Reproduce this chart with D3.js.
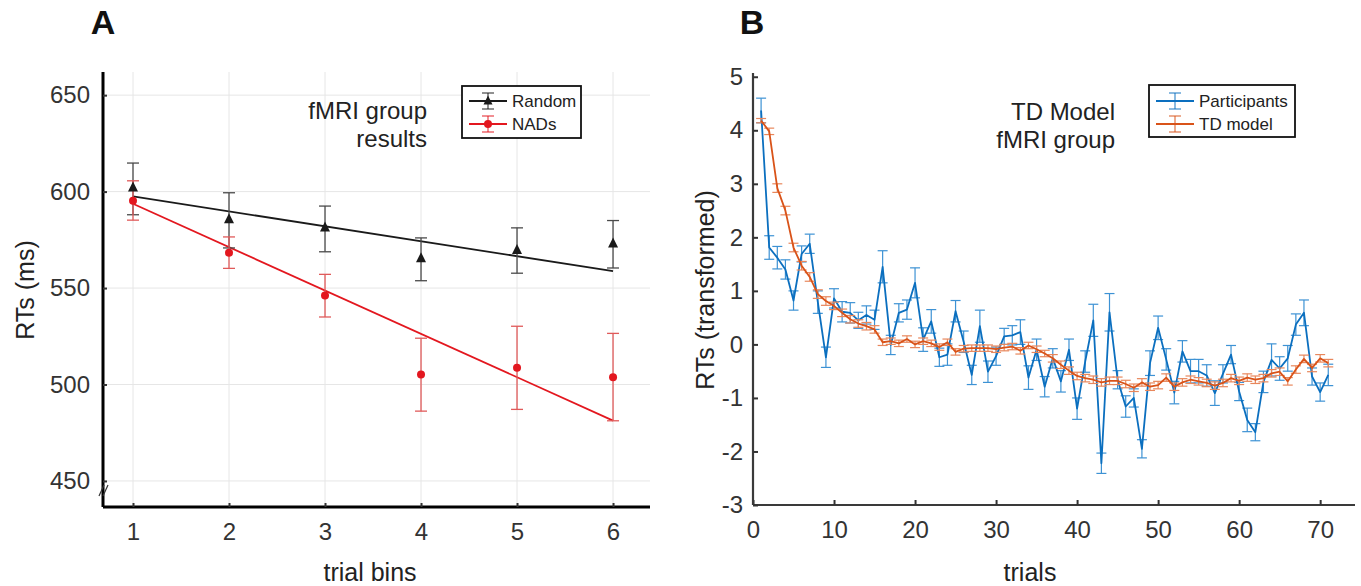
<!DOCTYPE html>
<html>
<head>
<meta charset="utf-8">
<script src="https://cdn.jsdelivr.net/npm/d3@7"></script>
<style>
  body { margin: 0; background: #fff; }
  svg { display: block; font-family: "Liberation Sans", Arial, sans-serif; }
</style>
</head>
<body>
<svg id="chart" width="1361" height="586"></svg>
<script>
// ---- panel A data (RTs in ms per trial bin) ----
var bins = [1, 2, 3, 4, 5, 6];
var randomMean = [602, 585.6, 581.3, 565.4, 569.6, 573];
var randomHi = [614.8, 599.4, 592.5, 576, 581.2, 585];
var randomLo = [588, 570.8, 568.8, 553.8, 557.7, 560.4];
var nadsMean = [595.2, 568.3, 546.2, 505.2, 508.7, 503.8];
var nadsHi = [605.6, 576.5, 557.1, 524, 530.2, 526.5];
var nadsLo = [585.2, 560.2, 535, 486.2, 487.1, 481.2];
var fitBins = [1, 6];
var randomFit = [597.5, 558.8];
var nadsFit = [593.7, 481.3];
var ticksA = [450, 500, 550, 600, 650];

// ---- panel B data (transformed RTs per trial) ----
var participants = [4.37, 1.81, 1.62, 1.40, 0.82, 1.69, 1.88, 0.79, -0.24, 0.86,
  0.61, 0.59, 0.45, 0.55, 0.46, 1.45, -0.01, 0.59, 0.65, 1.15,
  0.09, 0.43, -0.24, -0.19, 0.62, 0.05, -0.57, 0.34, -0.51, -0.22,
  0.15, 0.17, 0.23, -0.62, -0.10, -0.79, -0.26, -0.69, -0.10, -1.20,
  -0.32, 0.45, -2.22, 0.60, -0.66, -1.16, -1.00, -1.95, -0.35, 0.31,
  -0.28, -0.90, -0.13, -0.50, -0.50, -0.58, -0.91, -0.55, -0.19, -0.88,
  -1.41, -1.64, -0.70, -0.29, -0.45, -0.26, 0.37, 0.59, -0.60, -0.89, -0.57];
var participantsErr = [0.23, 0.22, 0.21, 0.18, 0.18, 0.15, 0.18, 0.21, 0.19, 0.18,
  0.19, 0.19, 0.15, 0.17, 0.18, 0.30, 0.18, 0.17, 0.18, 0.28,
  0.22, 0.22, 0.17, 0.20, 0.20, 0.20, 0.18, 0.30, 0.20, 0.17,
  0.15, 0.18, 0.23, 0.22, 0.20, 0.19, 0.18, 0.20, 0.20, 0.20,
  0.20, 0.30, 0.19, 0.35, 0.17, 0.20, 0.17, 0.17, 0.23, 0.22,
  0.20, 0.21, 0.20, 0.22, 0.22, 0.20, 0.23, 0.17, 0.17, 0.17,
  0.22, 0.16, 0.20, 0.30, 0.22, 0.24, 0.20, 0.24, 0.16, 0.17, 0.20];
var tdModel = [4.18, 3.98, 2.92, 2.50, 1.81, 1.47, 1.26, 0.94, 0.81, 0.72,
  0.59, 0.47, 0.39, 0.34, 0.28, 0.04, 0.06, 0.02, 0.10, 0.00,
  0.06, 0.02, -0.05, 0.04, -0.14, -0.08, -0.07, -0.07, -0.07, -0.09,
  -0.06, -0.04, -0.12, -0.02, -0.09, -0.17, -0.26, -0.38, -0.49, -0.59,
  -0.63, -0.66, -0.71, -0.68, -0.68, -0.74, -0.81, -0.71, -0.79, -0.76,
  -0.62, -0.79, -0.71, -0.66, -0.69, -0.72, -0.77, -0.72, -0.63, -0.68,
  -0.62, -0.66, -0.63, -0.54, -0.51, -0.69, -0.47, -0.27, -0.44, -0.26, -0.35];
var tdErr = [0.04, 0.06, 0.08, 0.08, 0.08, 0.08, 0.08, 0.08, 0.08, 0.07,
  0.07, 0.07, 0.07, 0.07, 0.07, 0.06, 0.06, 0.06, 0.06, 0.06,
  0.06, 0.06, 0.06, 0.06, 0.06, 0.06, 0.06, 0.06, 0.06, 0.06,
  0.06, 0.06, 0.06, 0.06, 0.06, 0.06, 0.07, 0.07, 0.07, 0.07,
  0.07, 0.07, 0.07, 0.07, 0.07, 0.07, 0.07, 0.07, 0.07, 0.07,
  0.07, 0.07, 0.07, 0.07, 0.07, 0.07, 0.07, 0.07, 0.07, 0.07,
  0.07, 0.07, 0.07, 0.07, 0.07, 0.07, 0.07, 0.07, 0.07, 0.07, 0.07];
var trials = d3.range(1, participants.length + 1);
var ticksBx = [0, 10, 20, 30, 40, 50, 60, 70];
var ticksBy = [-3, -2, -1, 0, 1, 2, 3, 4, 5];

var svg = d3.select("#chart");
var tickFont = "'Liberation Sans Narrow', 'Arial Narrow', 'Liberation Sans', sans-serif";

function errorBars(g, xs, lo, hi, x, y, color, capW, width) {
    xs.forEach(function (d, i) {
        var cx = x(d);
        g.append("line").attr("x1", cx).attr("x2", cx)
            .attr("y1", y(lo[i])).attr("y2", y(hi[i]))
            .attr("stroke", color).attr("stroke-width", width);
        [lo[i], hi[i]].forEach(function (v) {
            g.append("line").attr("x1", cx - capW / 2).attr("x2", cx + capW / 2)
                .attr("y1", y(v)).attr("y2", y(v))
                .attr("stroke", color).attr("stroke-width", width);
        });
    });
}

function triangle(g, cx, cy, s, color) {
    g.append("path")
        .attr("d", "M" + cx + "," + (cy - s * 0.62) + "L" + (cx + s / 2) + "," + (cy + s * 0.38) +
            "L" + (cx - s / 2) + "," + (cy + s * 0.38) + "Z")
        .attr("fill", color);
}

function legendItem(g, x0, y0, color, label, marker) {
    g.append("line").attr("x1", x0).attr("x2", x0 + 38).attr("y1", y0).attr("y2", y0)
        .attr("stroke", color).attr("stroke-width", 2.2);
    var cx = x0 + 19;
    g.append("line").attr("x1", cx).attr("x2", cx).attr("y1", y0 - 8).attr("y2", y0 + 8)
        .attr("stroke", color).attr("stroke-width", 1.2).attr("opacity", 0.8);
    [y0 - 8, y0 + 8].forEach(function (v) {
        g.append("line").attr("x1", cx - 6).attr("x2", cx + 6).attr("y1", v).attr("y2", v)
            .attr("stroke", color).attr("stroke-width", 1.2).attr("opacity", 0.8);
    });
    if (marker == "tri") triangle(g, cx, y0, 9, color);
    if (marker == "dot") g.append("circle").attr("cx", cx).attr("cy", y0).attr("r", 4).attr("fill", color);
    g.append("text").attr("x", x0 + 43).attr("y", y0 + 6).attr("font-size", 17)
        .attr("fill", "#222").text(label);
}

function styleAxis(a, color, width) {
    a.select(".domain").attr("stroke", color).attr("stroke-width", width);
    a.selectAll(".tick line").attr("stroke", "#333").attr("stroke-width", 2);
    a.selectAll(".tick text").attr("font-size", 24).attr("fill", "#333")
        .attr("font-family", tickFont);
}

// =================== Panel A ===================
var xA = d3.scaleLinear().domain([0.6875, 6.385]).range([103, 650]);
var yA = d3.scaleLinear().domain([436.5, 662]).range([507, 72]);
var gA = svg.append("g");

// grid
gA.selectAll("line.gx").data(bins).enter().append("line")
    .attr("x1", xA).attr("x2", xA).attr("y1", yA(662)).attr("y2", yA(436.5))
    .attr("stroke", "#e6e6e6").attr("stroke-width", 1);
gA.selectAll("line.gy").data(ticksA).enter().append("line")
    .attr("x1", 103).attr("x2", 650).attr("y1", yA).attr("y2", yA)
    .attr("stroke", "#e6e6e6").attr("stroke-width", 1);

// axes
var axAx = gA.append("g").attr("transform", "translate(0,507)")
    .call(d3.axisBottom(xA).tickValues(bins).tickSize(-4).tickPadding(13).tickFormat(String));
var axAy = gA.append("g").attr("transform", "translate(103,0)")
    .call(d3.axisLeft(yA).tickValues(ticksA).tickSize(-4).tickPadding(13).tickFormat(String));
styleAxis(axAx, "#000", 3);
styleAxis(axAy, "#000", 3);
axAx.selectAll(".tick text").attr("dy", "0.85em");
axAx.select(".domain").attr("d", "M103,0H650");
axAy.select(".domain").attr("d", "M0,72V507");

// axis break mark
[0, 4].forEach(function (o) {
    gA.append("line").attr("x1", 99 + o).attr("y1", 496).attr("x2", 104 + o).attr("y2", 485)
        .attr("stroke", "#333").attr("stroke-width", 1.2);
});

// fit lines
var lineA = d3.line().x(function (d, i) { return xA(fitBins[i]); }).y(function (d) { return yA(d); });
gA.append("path").datum(randomFit).attr("d", lineA).attr("fill", "none")
    .attr("stroke", "#1a1a1a").attr("stroke-width", 1.8);
gA.append("path").datum(nadsFit).attr("d", lineA).attr("fill", "none")
    .attr("stroke", "#e3171f").attr("stroke-width", 1.8);

// error bars and markers
errorBars(gA, bins, randomLo, randomHi, xA, yA, "#4a4a4a", 12, 1.3);
errorBars(gA, bins, nadsLo, nadsHi, xA, yA, "#e05a5a", 12, 1.3);
bins.forEach(function (b, i) { triangle(gA, xA(b), yA(randomMean[i]), 10, "#1a1a1a"); });
gA.selectAll("circle.nad").data(bins).enter().append("circle")
    .attr("cx", xA).attr("cy", function (d, i) { return yA(nadsMean[i]); })
    .attr("r", 4).attr("fill", "#e3171f");

// title text
var tA = gA.append("text").attr("text-anchor", "end").attr("font-size", 24).attr("fill", "#222");
tA.append("tspan").attr("x", 427).attr("y", 119).text("fMRI group");
tA.append("tspan").attr("x", 427).attr("y", 147).text("results");

// legend
gA.append("rect").attr("x", 462).attr("y", 86).attr("width", 119).attr("height", 52)
    .attr("fill", "#fff").attr("stroke", "#111").attr("stroke-width", 1.8);
legendItem(gA, 469, 101, "#1a1a1a", "Random", "tri");
legendItem(gA, 469, 124, "#e3171f", "NADs", "dot");

// labels
gA.append("text").attr("x", 103).attr("y", 34).attr("font-size", 34).attr("font-weight", "bold")
    .attr("text-anchor", "middle").attr("fill", "#111").text("A");
gA.append("text").attr("transform", "translate(34,290) rotate(-90)").attr("text-anchor", "middle")
    .attr("font-size", 25).attr("fill", "#222").text("RTs (ms)");
gA.append("text").attr("x", 370).attr("y", 581).attr("text-anchor", "middle")
    .attr("font-size", 25).attr("fill", "#222").text("trial bins");

// =================== Panel B ===================
var xB = d3.scaleLinear().domain([0, 74.3]).range([753, 1355]);
var yB = d3.scaleLinear().domain([-3, 5.07]).range([505, 73]);
var gB = svg.append("g");

var axBx = gB.append("g").attr("transform", "translate(0,505)")
    .call(d3.axisBottom(xB).tickValues(ticksBx).tickSize(-5).tickPadding(13).tickFormat(String));
var axBy = gB.append("g").attr("transform", "translate(753,0)")
    .call(d3.axisLeft(yB).tickValues(ticksBy).tickSize(-5).tickPadding(10).tickFormat(String));
styleAxis(axBx, "#3a3a3a", 2.2);
styleAxis(axBy, "#3a3a3a", 2.2);
axBx.selectAll(".tick text").attr("dy", "0.85em");
axBx.select(".domain").attr("d", "M753,0H1355");
axBy.select(".domain").attr("d", "M0,73V505");

var lineB = d3.line().x(function (d, i) { return xB(trials[i]); }).y(function (d) { return yB(d); });

// participants
errorBars(gB, trials,
    participants.map(function (v, i) { return v - participantsErr[i]; }),
    participants.map(function (v, i) { return v + participantsErr[i]; }),
    xB, yB, "#3d92d4", 10, 1.2);
gB.append("path").datum(participants).attr("d", lineB).attr("fill", "none")
    .attr("stroke", "#0b6fbf").attr("stroke-width", 1.8).attr("stroke-linejoin", "round");

// TD model
errorBars(gB, trials,
    tdModel.map(function (v, i) { return v - tdErr[i]; }),
    tdModel.map(function (v, i) { return v + tdErr[i]; }),
    xB, yB, "#e8875c", 10, 1.2);
gB.append("path").datum(tdModel).attr("d", lineB).attr("fill", "none")
    .attr("stroke", "#d95319").attr("stroke-width", 1.8).attr("stroke-linejoin", "round");

// title text
var tB = gB.append("text").attr("text-anchor", "end").attr("font-size", 24).attr("fill", "#222");
tB.append("tspan").attr("x", 1115).attr("y", 120).text("TD Model");
tB.append("tspan").attr("x", 1115).attr("y", 148).text("fMRI group");

// legend
gB.append("rect").attr("x", 1149).attr("y", 85).attr("width", 146).attr("height", 52)
    .attr("fill", "#fff").attr("stroke", "#111").attr("stroke-width", 1.8);
legendItem(gB, 1156, 101, "#0b6fbf", "Participants", null);
legendItem(gB, 1156, 124, "#d95319", "TD model", null);

// labels
gB.append("text").attr("x", 752).attr("y", 34).attr("font-size", 34).attr("font-weight", "bold")
    .attr("text-anchor", "middle").attr("fill", "#111").text("B");
gB.append("text").attr("transform", "translate(714,290) rotate(-90)").attr("text-anchor", "middle")
    .attr("font-size", 25).attr("fill", "#222").text("RTs (transformed)");
gB.append("text").attr("x", 1030).attr("y", 581).attr("text-anchor", "middle")
    .attr("font-size", 25).attr("fill", "#222").text("trials");
</script>
</body>
</html>
